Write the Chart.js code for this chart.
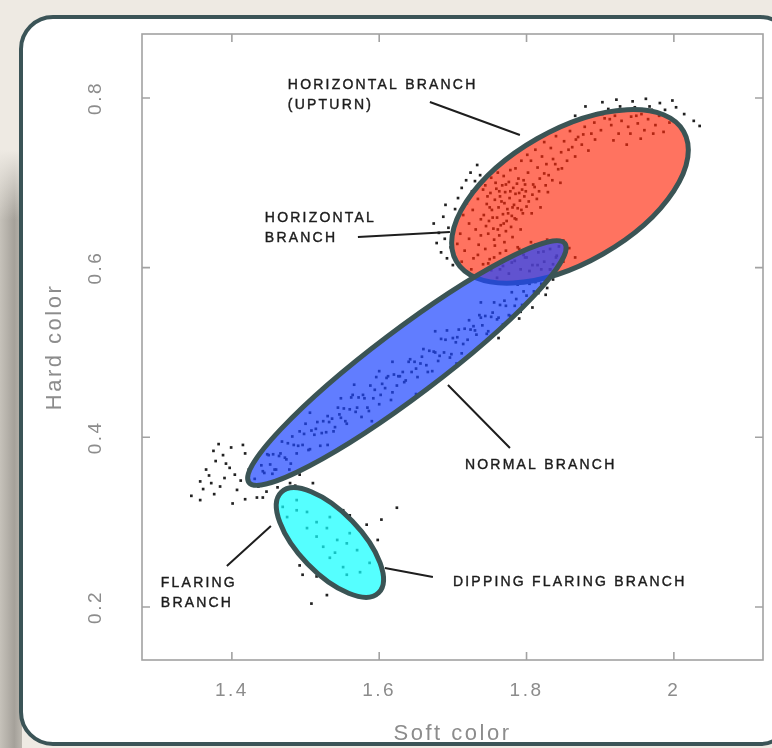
<!DOCTYPE html>
<html>
<head>
<meta charset="utf-8">
<title>Hard color vs Soft color</title>
<script src="https://cdn.jsdelivr.net/npm/chart.js@4.4.1/dist/chart.umd.min.js"></script>
<style>
  html, body { margin: 0; padding: 0; width: 772px; height: 748px; overflow: hidden; background: #eeeae3; }
  #shadow {
    position: absolute; left: 0; top: 150px; width: 22px; height: 610px;
    background: linear-gradient(to bottom, #eeeae3, rgba(238,234,227,0) 70px),
                linear-gradient(to right, #c6c2ba, #a5a19a 65%, #bbb7af);
  }
  #card {
    position: absolute; left: 19px; top: 15px; width: 767px; height: 723px;
    border: 4px solid #3b5457; border-radius: 34px; background: #fff;
  }
  #chart { position: absolute; left: 0; top: 0; }
</style>
</head>
<body>
<div id="shadow"></div>
<div id="card"></div>
<canvas id="chart" width="772" height="748"></canvas>
<script>
// axes
const xTitle = 'Soft color';
const yTitle = 'Hard color';
const xTicks = [1.4, 1.6, 1.8, 2];
const yTicks = [0.2, 0.4, 0.6, 0.8];
const xRange = [1.278, 2.121];
const yRange = [0.1375, 0.8754];

// scatter points, [soft, hard]
const horizontalBranch = [
  [1.742,0.662],[1.746,0.675],[1.749,0.655],[1.751,0.688],[1.753,0.668],[1.755,0.646],[1.757,0.680],[1.759,0.693],
  [1.760,0.659],[1.762,0.671],[1.764,0.684],[1.765,0.650],[1.767,0.697],[1.768,0.663],[1.770,0.676],[1.771,0.689],
  [1.773,0.655],[1.774,0.669],[1.776,0.701],[1.777,0.682],[1.779,0.648],[1.780,0.661],[1.782,0.694],[1.783,0.674],
  [1.785,0.687],[1.786,0.657],[1.788,0.670],[1.789,0.705],[1.791,0.679],[1.792,0.645],[1.794,0.692],[1.795,0.664],
  [1.797,0.684],[1.798,0.698],[1.800,0.672],[1.748,0.640],[1.756,0.633],[1.763,0.638],[1.772,0.643],[1.781,0.636],
  [1.744,0.697],[1.752,0.706],[1.761,0.712],[1.769,0.708],[1.778,0.715],
  [1.722,0.652],[1.727,0.668],[1.731,0.645],[1.734,0.681],[1.738,0.657],[1.741,0.692],[1.745,0.649],[1.747,0.684],
  [1.750,0.671],[1.754,0.659],[1.758,0.700],[1.761,0.645],[1.763,0.690],[1.766,0.678],[1.769,0.652],[1.772,0.698],
  [1.775,0.664],[1.778,0.690],[1.781,0.671],[1.784,0.658],[1.787,0.699],[1.790,0.688],[1.793,0.668],[1.796,0.703],
  [1.799,0.690],[1.803,0.678],[1.807,0.664],[1.811,0.695],[1.814,0.681],[1.819,0.671],[1.824,0.711],[1.829,0.689],
  [1.734,0.615],[1.738,0.638],[1.744,0.622],[1.750,0.610],[1.757,0.626],[1.764,0.617],[1.770,0.630],[1.776,0.612],
  [1.710,0.640],[1.714,0.662],[1.719,0.676],[1.726,0.690],[1.730,0.702],[1.737,0.709],[1.712,0.607],[1.706,0.628],
  [1.725,0.598],[1.785,0.717],[1.793,0.726],[1.801,0.733],
  [1.802,0.712],[1.806,0.726],[1.809,0.698],[1.812,0.739],[1.815,0.718],[1.818,0.705],[1.821,0.731],[1.824,0.748],
  [1.827,0.722],[1.830,0.709],[1.833,0.741],[1.836,0.728],[1.840,0.755],[1.843,0.716],[1.847,0.736],[1.851,0.749],
  [1.855,0.726],[1.859,0.761],[1.862,0.742],[1.866,0.731],[1.870,0.754],[1.875,0.745],[1.879,0.766],[1.884,0.738],
  [1.888,0.758],[1.808,0.686],[1.817,0.690],[1.826,0.697],[1.835,0.703],[1.846,0.700],
  [1.839,0.722],[1.848,0.717],[1.857,0.739],[1.867,0.751],[1.877,0.757],[1.893,0.751],
  [1.892,0.771],[1.897,0.782],[1.901,0.762],[1.906,0.776],[1.911,0.787],[1.915,0.768],[1.920,0.779],[1.925,0.758],
  [1.929,0.773],[1.933,0.785],[1.938,0.766],[1.942,0.778],[1.947,0.789],[1.951,0.770],[1.956,0.781],[1.960,0.762],
  [1.965,0.775],[1.970,0.786],[1.975,0.768],[1.980,0.779],[1.918,0.750],[1.936,0.745],[1.955,0.752],[1.986,0.760],
  [1.994,0.771],[1.903,0.781],[1.913,0.775],[1.927,0.790],[1.941,0.758],[1.949,0.779],[1.967,0.790],[1.972,0.758],
  [1.988,0.786],
  [1.903,0.795],[1.922,0.798],[1.944,0.796],[1.962,0.799],[1.981,0.794],[2.003,0.789],[2.014,0.781],[2.027,0.773],
  [2.035,0.767],[1.998,0.797],[1.880,0.790],[1.866,0.779],
  [1.674,0.652],[1.678,0.629],[1.681,0.641],[1.684,0.618],[1.687,0.660],[1.689,0.634],[1.692,0.611],[1.694,0.647],
  [1.697,0.624],[1.700,0.603],[1.703,0.669],[1.707,0.682],[1.712,0.694],[1.718,0.703],[1.724,0.712],[1.690,0.674],
  [1.733,0.721],
  [1.716,0.620],[1.722,0.634],[1.728,0.611],[1.735,0.627],[1.741,0.604],[1.790,0.622],[1.798,0.612],[1.806,0.630],
  [1.815,0.603],[1.823,0.619],[1.832,0.598],[1.841,0.614],[1.850,0.607],[1.858,0.623],[1.866,0.612]
];

const normalBranch = [
  [1.440,0.367],[1.444,0.358],[1.448,0.380],[1.452,0.368],[1.456,0.380],[1.460,0.362],[1.464,0.378],[1.468,0.395],
  [1.472,0.376],[1.476,0.393],[1.480,0.369],[1.484,0.391],[1.488,0.381],[1.492,0.407],[1.496,0.391],[1.500,0.416],
  [1.504,0.385],[1.508,0.408],[1.512,0.403],[1.516,0.418],[1.520,0.390],[1.524,0.419],[1.528,0.406],[1.532,0.418],
  [1.536,0.422],[1.540,0.412],[1.544,0.435],[1.548,0.423],[1.552,0.434],[1.556,0.416],[1.560,0.433],[1.564,0.450],
  [1.568,0.430],[1.572,0.447],[1.576,0.424],[1.580,0.446],[1.584,0.435],[1.588,0.461],[1.592,0.446],[1.596,0.471],
  [1.600,0.439],[1.604,0.463],[1.608,0.458],[1.612,0.472],[1.616,0.444],[1.620,0.474],[1.624,0.461],[1.628,0.472],
  [1.632,0.477],[1.636,0.467],[1.640,0.489],[1.644,0.477],[1.648,0.489],[1.652,0.471],[1.656,0.487],[1.660,0.504],
  [1.664,0.485],[1.668,0.502],[1.672,0.478],[1.676,0.500],[1.680,0.490],[1.684,0.516],[1.688,0.500],[1.692,0.526],
  [1.696,0.494],[1.700,0.517],[1.704,0.512],[1.708,0.527],[1.712,0.499],[1.716,0.528],[1.720,0.515],[1.724,0.527],
  [1.728,0.531],[1.732,0.521],[1.736,0.544],[1.740,0.532],[1.744,0.543],[1.748,0.525],[1.752,0.542],[1.756,0.559],
  [1.760,0.539],[1.764,0.556],[1.768,0.533],[1.772,0.555],[1.776,0.544],[1.780,0.571],[1.784,0.555],[1.788,0.580],
  [1.792,0.548],[1.796,0.572],[1.800,0.567],[1.804,0.581],[1.808,0.553],[1.812,0.583],[1.816,0.570],[1.820,0.581],
  [1.824,0.586],[1.828,0.576],[1.832,0.598],[1.836,0.586],
  [1.442,0.360],[1.450,0.379],[1.458,0.362],[1.466,0.381],[1.474,0.374],[1.482,0.401],[1.490,0.390],[1.498,0.404],
  [1.506,0.386],[1.514,0.410],[1.522,0.405],[1.530,0.425],[1.538,0.407],[1.546,0.427],[1.554,0.419],[1.562,0.447],
  [1.570,0.435],[1.578,0.450],[1.586,0.431],[1.594,0.456],[1.602,0.450],[1.610,0.470],[1.618,0.453],[1.626,0.472],
  [1.634,0.465],[1.642,0.492],[1.650,0.481],[1.658,0.495],[1.666,0.477],[1.674,0.501],[1.682,0.496],[1.690,0.515],
  [1.698,0.498],[1.706,0.518],[1.714,0.510],[1.722,0.538],[1.730,0.526],[1.738,0.541],[1.746,0.522],[1.754,0.547],
  [1.762,0.541],[1.770,0.561],[1.778,0.543],[1.786,0.563],[1.794,0.556],[1.802,0.583],[1.810,0.572],[1.818,0.586],
  [1.826,0.568],[1.834,0.592],
  [1.745,0.585],[1.752,0.597],[1.760,0.588],[1.768,0.602],[1.776,0.593],[1.784,0.608],[1.792,0.598],[1.800,0.612],
  [1.808,0.603],[1.816,0.618],[1.824,0.607],[1.832,0.622],[1.840,0.612],[1.828,0.633],[1.812,0.627],
  [1.748,0.605],[1.756,0.612],[1.764,0.598],[1.772,0.620],[1.780,0.606],[1.788,0.624],[1.796,0.615],[1.804,0.596],
  [1.820,0.598],[1.836,0.604],[1.844,0.625],[1.850,0.632],
  [1.452,0.395],[1.478,0.362],[1.506,0.429],[1.530,0.391],[1.566,0.462],[1.590,0.419],[1.618,0.489],[1.650,0.451],
  [1.676,0.525],[1.705,0.487],[1.738,0.559],[1.762,0.517],[1.790,0.540],[1.548,0.446],[1.600,0.478]
];

const flaringBranch = [
  [1.357,0.326],[1.384,0.342],[1.397,0.364],[1.418,0.381],[1.388,0.379],[1.434,0.329],[1.447,0.336],[1.479,0.346],
  [1.510,0.346],[1.492,0.356],[1.372,0.346],[1.407,0.338],[1.365,0.362],[1.378,0.372],[1.390,0.352],[1.412,0.349],
  [1.436,0.342],[1.462,0.341],[1.468,0.350],[1.455,0.357],[1.401,0.322],[1.418,0.327],[1.382,0.392],[1.399,0.388],
  [1.361,0.339],[1.442,0.329],[1.503,0.338],
  [1.345,0.331],[1.369,0.355],[1.376,0.333],[1.392,0.369],[1.404,0.356],[1.423,0.362],[1.431,0.351],[1.451,0.347],
  [1.473,0.339],[1.486,0.343],[1.415,0.391],[1.375,0.384],[1.357,0.348]
];

const dippingBranch = [
  [1.469,0.318],[1.488,0.314],[1.502,0.312],[1.515,0.300],[1.533,0.306],[1.502,0.293],[1.543,0.279],[1.524,0.271],
  [1.556,0.275],[1.533,0.258],[1.551,0.247],[1.570,0.267],[1.587,0.252],[1.488,0.326],[1.475,0.306],[1.515,0.283],
  [1.529,0.293],[1.560,0.287],[1.574,0.241],[1.556,0.238],[1.540,0.264],[1.492,0.249],[1.508,0.204],[1.529,0.214],
  [1.515,0.236],[1.496,0.238],[1.624,0.317],[1.603,0.303],[1.583,0.297],[1.598,0.279],[1.551,0.314],[1.560,0.308]
];

// branch ellipses: centre, end of long semi-axis, end of short semi-axis (data units)
const branchNames = ['Horizontal branch', 'Normal branch', 'Dipping flaring branch'];
const ellipseCentre = [[1.859, 0.684], [1.6376, 0.4876], [1.5331, 0.2760]];
const ellipseMajor = [[2.0133, 0.7606], [1.8521, 0.6284], [1.5992, 0.2167]];
const ellipseMinor = [[1.8141, 0.7519], [1.6106, 0.5186], [1.5633, 0.3014]];

// annotations
const noteTexts = [
  ['HORIZONTAL BRANCH', '(UPTURN)'],
  ['HORIZONTAL', 'BRANCH'],
  ['NORMAL BRANCH'],
  ['FLARING', 'BRANCH'],
  ['DIPPING FLARING BRANCH']
];
const noteAnchors = [[1.476, 0.8153], [1.4448, 0.6585], [1.7164, 0.3674], [1.3036, 0.2283], [1.7001, 0.2295]];
const noteLeaders = [
  [[1.6688, 0.7953], [1.791, 0.7564]],
  [[1.5711, 0.6361], [1.696, 0.642]],
  [[1.6933, 0.4617], [1.7775, 0.3874]],
  [[1.3932, 0.2483], [1.453, 0.2955]],
  [[1.6077, 0.2460], [1.6729, 0.2353]]
];

// styles
const fontFamily = "'Liberation Sans', Arial, sans-serif";
const axisGrey = '#8c8c8c';
const frameGrey = '#a2a2a2';
const dotColor = '#222222';
const ellipseFill = ['rgba(255,40,10,0.65)', 'rgba(30,70,255,0.7)', 'rgba(20,255,255,0.72)'];
const ellipseEdge = '#3b5455';

function toPoints(list) {
  return list.map(p => ({ x: p[0], y: p[1] }));
}

function dataset(label, list) {
  return {
    label: label,
    data: toPoints(list),
    pointStyle: 'rect',
    pointRadius: 1.9,
    pointBorderWidth: 0,
    pointBackgroundColor: dotColor,
    showLine: false
  };
}

// spacing for the stretched axis lettering
const spacingPlugin = {
  id: 'spacing',
  beforeUpdate(chart) { chart.ctx.letterSpacing = '2.5px'; },
  beforeDraw(chart) { chart.ctx.letterSpacing = '2.5px'; }
};

// ellipses are laid over the dots so the dots take their tint
const ellipsePlugin = {
  id: 'ellipses',
  afterDatasetsDraw(chart) {
    const ctx = chart.ctx;
    const xs = chart.scales.x, ys = chart.scales.y;
    ctx.save();
    ellipseCentre.forEach((c, i) => {
      const cx = xs.getPixelForValue(c[0]), cy = ys.getPixelForValue(c[1]);
      const ux = xs.getPixelForValue(ellipseMajor[i][0]) - cx, uy = ys.getPixelForValue(ellipseMajor[i][1]) - cy;
      const vx = xs.getPixelForValue(ellipseMinor[i][0]) - cx, vy = ys.getPixelForValue(ellipseMinor[i][1]) - cy;
      ctx.beginPath();
      ctx.ellipse(cx, cy, Math.hypot(ux, uy), Math.hypot(vx, vy), Math.atan2(uy, ux), 0, Math.PI * 2);
      ctx.fillStyle = ellipseFill[i];
      ctx.fill();
      ctx.lineWidth = 5;
      ctx.strokeStyle = ellipseEdge;
      ctx.stroke();
    });
    ctx.restore();
  }
};

// plot frame, inward ticks on all sides, labels and leader lines
const framePlugin = {
  id: 'frame',
  afterDraw(chart) {
    const ctx = chart.ctx;
    const a = chart.chartArea;
    const xs = chart.scales.x, ys = chart.scales.y;
    ctx.save();
    ctx.strokeStyle = frameGrey;
    ctx.lineWidth = 1.6;
    ctx.strokeRect(a.left, a.top, a.right - a.left, a.bottom - a.top);
    ctx.beginPath();
    xTicks.forEach(v => {
      const px = xs.getPixelForValue(v);
      ctx.moveTo(px, a.bottom); ctx.lineTo(px, a.bottom - 8);
      ctx.moveTo(px, a.top); ctx.lineTo(px, a.top + 8);
    });
    yTicks.forEach(v => {
      const py = ys.getPixelForValue(v);
      ctx.moveTo(a.left, py); ctx.lineTo(a.left + 8, py);
      ctx.moveTo(a.right, py); ctx.lineTo(a.right - 8, py);
    });
    ctx.stroke();

    // leader lines
    ctx.strokeStyle = '#1e1e1e';
    ctx.lineWidth = 2;
    ctx.beginPath();
    noteLeaders.forEach(l => {
      ctx.moveTo(xs.getPixelForValue(l[0][0]), ys.getPixelForValue(l[0][1]));
      ctx.lineTo(xs.getPixelForValue(l[1][0]), ys.getPixelForValue(l[1][1]));
    });
    ctx.stroke();

    // labels
    ctx.letterSpacing = '2.2px';
    ctx.font = '14px ' + fontFamily;
    ctx.fillStyle = '#1c1c1c';
    ctx.strokeStyle = '#1c1c1c';
    ctx.lineWidth = 0.4;
    ctx.textAlign = 'left';
    ctx.textBaseline = 'middle';
    noteTexts.forEach((lines, i) => {
      const px = xs.getPixelForValue(noteAnchors[i][0]);
      const py = ys.getPixelForValue(noteAnchors[i][1]);
      lines.forEach((t, k) => {
        ctx.fillText(t, px, py + k * 20.5);
        ctx.strokeText(t, px, py + k * 20.5);
      });
    });
    ctx.restore();
  }
};

const ctx = document.getElementById('chart').getContext('2d');
const chart = new Chart(ctx, {
  type: 'scatter',
  data: {
    datasets: [
      dataset('Horizontal branch', horizontalBranch),
      dataset('Normal branch', normalBranch),
      dataset('Flaring branch', flaringBranch),
      dataset('Dipping flaring branch', dippingBranch)
    ]
  },
  options: {
    responsive: false,
    animation: false,
    events: [],
    layout: { padding: { top: 34, right: 9, bottom: 0, left: 0 } },
    plugins: {
      legend: { display: false },
      tooltip: { enabled: false }
    },
    scales: {
      x: {
        type: 'linear',
        min: xRange[0],
        max: xRange[1],
        grid: { display: false },
        border: { display: false },
        afterBuildTicks: s => { s.ticks = xTicks.map(v => ({ value: v })); },
        afterFit: s => { s.height = 88; },
        ticks: {
          color: axisGrey,
          font: { family: fontFamily, size: 19 },
          padding: 11,
          maxRotation: 0,
          callback: v => String(v)
        },
        title: {
          display: true,
          text: xTitle,
          color: axisGrey,
          font: { family: fontFamily, size: 22 },
          padding: { top: 0, bottom: 1 }
        }
      },
      y: {
        type: 'linear',
        min: yRange[0],
        max: yRange[1],
        grid: { display: false },
        border: { display: false },
        afterBuildTicks: s => { s.ticks = yTicks.map(v => ({ value: v })); },
        afterFit: s => { s.width = 142; },
        ticks: {
          color: axisGrey,
          font: { family: fontFamily, size: 19 },
          padding: 21,
          minRotation: 90,
          maxRotation: 90,
          crossAlign: 'center',
          callback: v => String(v)
        },
        title: {
          display: true,
          text: yTitle,
          color: axisGrey,
          font: { family: fontFamily, size: 22 },
          padding: { top: 42, bottom: 0 }
        }
      }
    }
  },
  plugins: [spacingPlugin, ellipsePlugin, framePlugin]
});
</script>
</body>
</html>
